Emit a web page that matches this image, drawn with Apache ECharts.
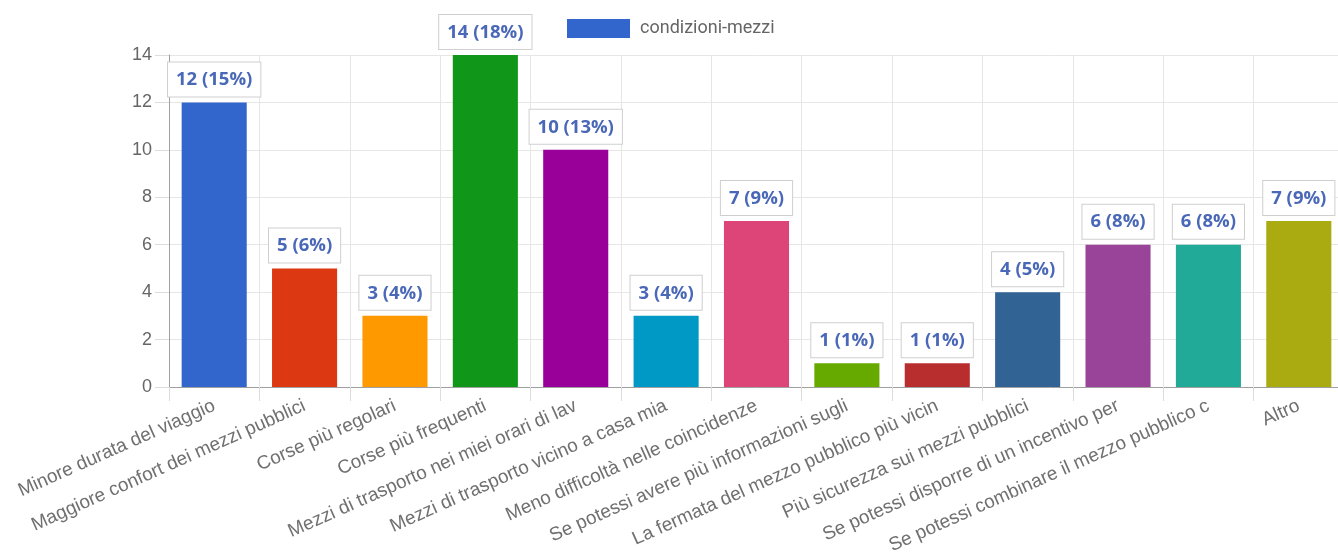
<!DOCTYPE html>
<html>
<head>
<meta charset="utf-8">
<script src="https://cdn.jsdelivr.net/npm/echarts@6/dist/echarts.min.js"></script>
<style>
html,body{margin:0;padding:0;background:#fff;overflow:hidden;width:1338px;height:555px;}
#chart{width:1344px;height:555px;}
</style>
</head>
<body>
<div id="chart"></div>
<script>
const categories = [
  "Minore durata del viaggio",
  "Maggiore confort dei mezzi pubblici",
  "Corse più regolari",
  "Corse più frequenti",
  "Mezzi di trasporto nei miei orari di lav",
  "Mezzi di trasporto vicino a casa mia",
  "Meno difficoltà nelle coincidenze",
  "Se potessi avere più informazioni sugli",
  "La fermata del mezzo pubblico più vicin",
  "Più sicurezza sui mezzi pubblici",
  "Se potessi disporre di un incentivo per",
  "Se potessi combinare il mezzo pubblico c",
  "Altro"
];
const values = [12, 5, 3, 14, 10, 3, 7, 1, 1, 4, 6, 6, 7];
const percents = [15, 6, 4, 18, 13, 4, 9, 1, 1, 5, 8, 8, 9];
const barColors = ["#3366cc","#dc3912","#ff9900","#109618","#990099","#0099c6","#dd4477","#66aa00","#b82e2e","#316395","#994499","#22aa99","#aaaa11"];
const seriesName = "condizioni-mezzi";
const yTicks = {min: 0, max: 14, interval: 2};

const chart = echarts.init(document.getElementById('chart'), null, {renderer: 'canvas'});
chart.setOption({
  animation: false,
  textStyle: {fontFamily: "'Liberation Sans', Arial, sans-serif"},
  legend: {
    top: 14,
    left: 562,
    itemWidth: 63,
    itemHeight: 19,
    itemStyle: {borderWidth: 0},
    textStyle: {fontSize: 18, color: '#666', fontFamily: 'Roboto, sans-serif', padding: [0,0,0,5]},
    data: [{name: seriesName, icon: 'rect'}]
  },
  grid: {left: 169, right: 0, top: 55, bottom: 168, containLabel: false, outerBoundsMode: 'none'},
  xAxis: {
    type: 'category',
    data: categories,
    boundaryGap: true,
    axisLine: {show: true, lineStyle: {color: '#a0a0a0', width: 1}},
    axisTick: {show: true, alignWithLabel: false, length: 14, lineStyle: {color: '#dcdcdc'}},
    splitLine: {show: true, lineStyle: {color: '#e6e6e6', width: 1}},
    axisLabel: {interval: 0, rotate: 24, fontSize: 19, color: '#707070', margin: 18}
  },
  yAxis: {
    type: 'value',
    min: yTicks.min, max: yTicks.max, interval: yTicks.interval,
    axisLine: {show: true, lineStyle: {color: '#a0a0a0', width: 1}},
    axisTick: {show: true, length: 14, lineStyle: {color: '#dcdcdc'}},
    splitLine: {show: true, lineStyle: {color: '#e6e6e6', width: 1}},
    axisLabel: {fontSize: 18, color: '#666', margin: 17}
  },
  series: [{
    name: seriesName,
    type: 'bar',
    barWidth: '72%',
    itemStyle: {color: barColors[0]},
    data: values.map((v, i) => ({value: v, itemStyle: {color: barColors[i]}})),
    label: {
      show: true,
      position: 'top',
      distance: 6,
      formatter: p => values[p.dataIndex] + ' (' + percents[p.dataIndex] + '%)',
      backgroundColor: '#fff',
      borderColor: '#cfcfcf',
      borderWidth: 1,
      padding: [8, 8, 7, 8],
      color: '#4a68b8',
      fontWeight: 'bold',
      fontSize: 18.5,
      fontFamily: "'Open Sans', sans-serif"
    }
  }]
});
</script>
</body>
</html>
